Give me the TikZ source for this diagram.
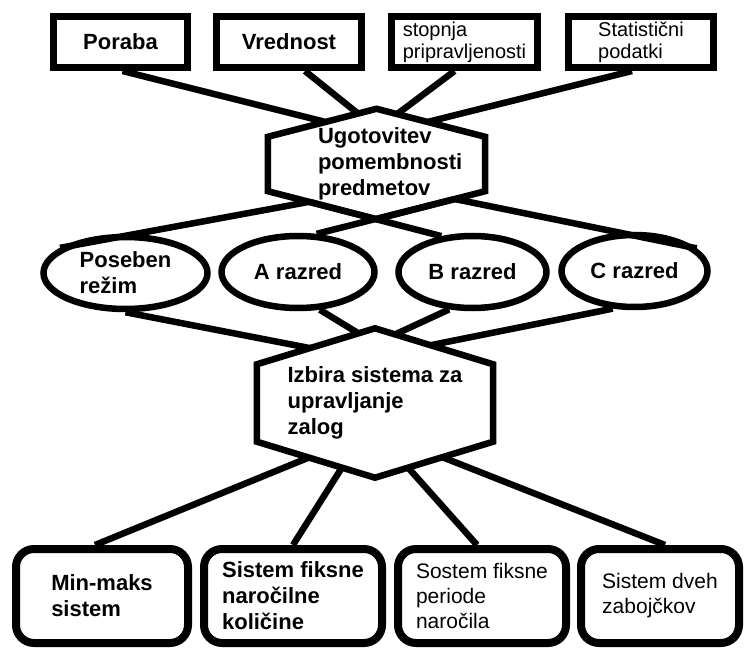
\documentclass[tikz,border=0pt]{standalone}
\usepackage{fontspec}
\setmainfont{Liberation Sans}
\usepackage{tikz}
\usetikzlibrary{shapes, positioning, calc}

\begin{document}
\begin{tikzpicture}[x=1pt, y=-1pt]
        % Styles
        \tikzstyle{topbox} = [draw, rectangle, line width=7pt, minimum height=51pt, inner sep=0pt, align=left]
        \tikzstyle{classoval} = [draw, ellipse, line width=6.5pt, minimum height=72pt, inner sep=0pt, align=left]
        \tikzstyle{hexbox} = [rectangle, inner sep=0pt, align=left]
        \tikzstyle{sysbox} = [draw, rectangle, rounded corners=18pt, line width=8pt, minimum height=94pt, inner sep=0pt, align=left]
        \tikzstyle{link} = [line width=6.5pt]
        \tikzstyle{boldtext} = [font=\fontsize{22}{26}\selectfont\bfseries]
        \tikzstyle{plaintext} = [font=\fontsize{20}{22}\selectfont]
        \tikzstyle{midtext} = [font=\fontsize{21}{25}\selectfont]

        \useasboundingbox (0,0) rectangle (745,650);

        % Top row
        \node [topbox, boldtext, minimum width=134pt] (poraba) at (120.5,42) {Poraba};
        \node [topbox, boldtext, minimum width=145pt] (vrednost) at (289,42) {Vrednost};
        \node [topbox, plaintext, minimum width=146pt] (stopnja) at (464.5,42) {stopnja\\pripravljenosti};
        \node [topbox, plaintext, minimum width=145pt] (statistika) at (641,42) {Statistični\\podatki};

        % Hexagon 1
        \node [hexbox, boldtext, text width=117pt, minimum width=217pt, minimum height=110pt] (ugotovitev) at (376.5,164) {Ugotovitev\\\mbox{pomembnosti}\\predmetov};
        \coordinate (ugo-nw) at ([yshift=-28pt]ugotovitev.north west);
        \coordinate (ugo-ne) at ([yshift=-28pt]ugotovitev.north east);
        \coordinate (ugo-sw) at ([yshift=28pt]ugotovitev.south west);
        \coordinate (ugo-se) at ([yshift=28pt]ugotovitev.south east);
        \draw [link] (ugotovitev.north) -- (ugo-ne) -- (ugo-se) -- (ugotovitev.south) -- (ugo-sw) -- (ugo-nw) -- cycle;

        % Classes
        \node [classoval, boldtext, minimum width=164pt] (poseben) at (125.5,273) {Poseben\\režim};
        \node [classoval, boldtext, minimum width=153pt] (arazred) at (298,272) {A razred};
        \node [classoval, boldtext, minimum width=148pt] (brazred) at (472.5,272) {B razred};
        \node [classoval, boldtext, minimum width=146pt] (crazred) at (634.5,271) {C razred};

        % Hexagon 2
        \node [hexbox, boldtext, minimum width=236pt, minimum height=149pt] (izbira) at (375,403) {Izbira sistema za\\upravljanje\\zalog};
        \coordinate (izb-nw) at ([yshift=-36pt]izbira.north west);
        \coordinate (izb-ne) at ([yshift=-36pt]izbira.north east);
        \coordinate (izb-sw) at ([yshift=36pt]izbira.south west);
        \coordinate (izb-se) at ([yshift=36pt]izbira.south east);
        \draw [link] (izbira.north) -- (izb-ne) -- (izb-se) -- (izbira.south) -- (izb-sw) -- (izb-nw) -- cycle;

        % Systems
        \node [sysbox, boldtext, minimum width=172pt] (minmaks) at (102,596) {Min-maks\\sistem};
        \node [sysbox, boldtext, minimum width=178pt] (fiksnakol) at (293,596) {Sistem fiksne\\naročilne\\količine};
        \node [sysbox, midtext, minimum width=168pt] (fiksnaper) at (482,596) {Sostem fiksne\\periode\\naročila};
        \node [sysbox, midtext, minimum width=158pt] (zabojcka) at (660,596) {Sistem dveh\\zabojčkov};

        % Lines
        \draw [link] ([xshift=2pt]poraba.south) -- ($(ugotovitev.north)!0.47!(ugo-nw)$);
        \draw [link] ([xshift=16pt]vrednost.south) -- ($(ugotovitev.north)!0.17!(ugo-nw)$);
        \draw [link] ([xshift=-10pt]stopnja.south) -- ($(ugotovitev.north)!0.19!(ugo-ne)$);
        \draw [link] ([xshift=-9pt]statistika.south) -- ($(ugotovitev.north)!0.47!(ugo-ne)$);

        \draw [link] ($(ugotovitev.south)!0.62!(ugo-sw)$) -- (poseben.159);
        \draw [link] ($(ugotovitev.south)!0.62!(ugo-sw)$) -- (brazred.131);
        \draw [link] ($(ugotovitev.south)!0.72!(ugo-se)$) -- (arazred.64);
        \draw [link] ($(ugotovitev.south)!0.72!(ugo-se)$) -- (crazred.20);

        \draw [link] (poseben.south) -- ($(izbira.north)!0.55!(izb-nw)$);
        \draw [link] (arazred.300) -- ($(izbira.north)!0.14!(izb-nw)$);
        \draw [link] (brazred.238) -- ($(izbira.north)!0.17!(izb-ne)$);
        \draw [link] (crazred.240) -- ($(izbira.north)!0.47!(izb-ne)$);

        \draw [link] ($(izbira.south)!0.56!(izb-sw)$) -- ([xshift=-7pt]minmaks.north);
        \draw [link] ($(izbira.south)!0.28!(izb-sw)$) -- (fiksnakol.north);
        \draw [link] ($(izbira.south)!0.28!(izb-se)$) -- ([xshift=-5pt]fiksnaper.north);
        \draw [link] ($(izbira.south)!0.57!(izb-se)$) -- ([xshift=5pt]zabojcka.north);
    \end{tikzpicture}
\end{document}
